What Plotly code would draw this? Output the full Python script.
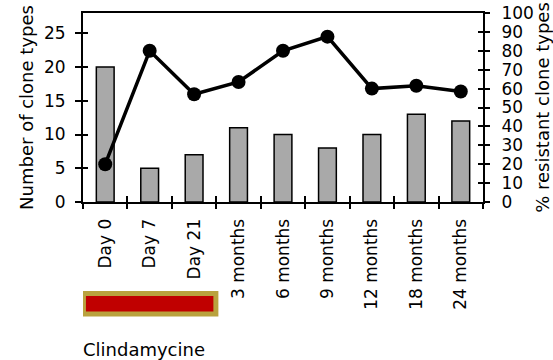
import plotly.graph_objects as go

# Sampling time points
categories = ["Day 0", "Day 7", "Day 21", "3 months", "6 months",
              "9 months", "12 months", "18 months", "24 months"]
# Number of clone types at each time point (bars, left axis)
clone_counts = [20, 5, 7, 11, 10, 8, 10, 13, 12]
# Percentage of resistant clone types (line, right axis)
pct_resistant = [20, 80, 57, 63.5, 80, 87.5, 60, 61.5, 58.5]
# Clindamycin treatment window (first and last sampling day)
treatment = ("Day 0", "Day 21")

left_ticks = [0, 5, 10, 15, 20, 25]
right_ticks = [0, 10, 20, 30, 40, 50, 60, 70, 80, 90, 100]

FONT = "DejaVu Sans"
TICK_SIZE = 17
TITLE_SIZE = 18

fig = go.Figure()

fig.add_trace(go.Bar(
    x=categories, y=clone_counts, width=0.4,
    marker=dict(color="#a9a9a9", line=dict(color="black", width=1.5)),
    yaxis="y", showlegend=False,
))
fig.add_trace(go.Scatter(
    x=categories, y=pct_resistant, mode="lines+markers",
    line=dict(color="black", width=3.5),
    marker=dict(color="black", size=14),
    yaxis="y2", showlegend=False, cliponaxis=False,
))

n = len(categories)
boundaries = [i - 0.5 for i in range(n + 1)]

common = dict(showgrid=False, zeroline=False, linecolor="black", linewidth=2,
              tickcolor="black", tickwidth=1.5)

fig.update_layout(
    width=553, height=360,
    margin=dict(l=83, r=70, t=13, b=158, autoexpand=False),
    plot_bgcolor="white", paper_bgcolor="white",
    font=dict(family=FONT, size=TICK_SIZE, color="black"),
    bargap=0.6,
    xaxis=dict(
        **common, type="category", range=[-0.5, n - 0.5],
        showline=True, mirror=True, ticks="outside", ticklen=5,
        tickson="boundaries", tickangle=-90, ticklabelstandoff=8,
        tickfont=dict(size=TICK_SIZE),
    ),
    # inner half of the crossing x ticks
    xaxis2=dict(
        showgrid=False, zeroline=False, showline=False, overlaying="x",
        anchor="y", range=[-0.5, n - 0.5], tickmode="array",
        tickvals=boundaries, ticks="inside", ticklen=6, tickwidth=1.5,
        tickcolor="black", showticklabels=False,
    ),
    yaxis=dict(
        **common, range=[0, 28], tickvals=left_ticks, showline=True,
        ticks="outside", ticklen=6, ticklabelstandoff=6,
        title=dict(text="Number of clone types",
                   font=dict(size=TITLE_SIZE), standoff=6),
    ),
    yaxis2=dict(
        **common, range=[0, 100], tickvals=right_ticks, showline=True,
        overlaying="y", side="right", anchor="x",
        ticks="outside", ticklen=5, ticklabelstandoff=8,
        title=dict(text="% resistant clone types",
                   font=dict(size=TITLE_SIZE), standoff=8),
    ),
    # inner halves of the crossing y ticks
    yaxis3=dict(
        showgrid=False, zeroline=False, showline=False, overlaying="y",
        side="left", anchor="x", range=[0, 28], tickvals=left_ticks,
        ticks="inside", ticklen=5, tickwidth=1.5, tickcolor="black",
        showticklabels=False,
    ),
    yaxis4=dict(
        showgrid=False, zeroline=False, showline=False, overlaying="y",
        side="right", anchor="x", range=[0, 100], tickvals=right_ticks,
        ticks="inside", ticklen=5, tickwidth=1.5, tickcolor="black",
        showticklabels=False,
    ),
)

# empty traces so the overlay tick axes get rendered
fig.add_trace(go.Scatter(x=[None], y=[None], xaxis="x2", yaxis="y3",
                         showlegend=False, hoverinfo="skip"))
fig.add_trace(go.Scatter(x=[None], y=[None], xaxis="x", yaxis="y4",
                         showlegend=False, hoverinfo="skip"))

# Treatment bar below the time axis
x_start = categories.index(treatment[0]) - 0.5
x_end = categories.index(treatment[1]) + 0.5
fig.add_shape(
    type="rect", xref="x", yref="paper",
    x0=x_start + 0.01, x1=x_end - 0.01, y0=-0.593, y1=-0.484,
    fillcolor="#c00000", line=dict(color="#b9a23e", width=5),
    layer="above",
)
fig.add_annotation(
    text="Clindamycine", xref="x", yref="paper",
    x=x_start, y=-0.778, xanchor="left", yanchor="middle", xshift=-2,
    showarrow=False, font=dict(size=TITLE_SIZE, family=FONT),
)

fig.write_html("out.html")
